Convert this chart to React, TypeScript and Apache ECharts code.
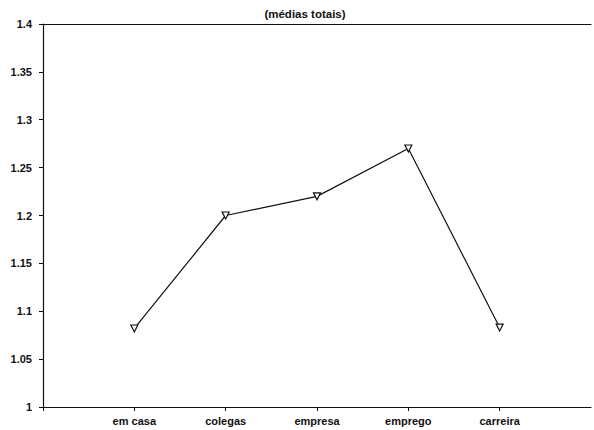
import React, { useEffect, useRef } from "react";
import * as echarts from "echarts";

const categories = ["", "em casa", "colegas", "empresa", "emprego", "carreira", ""];
const values: (number | null)[] = [null, 1.082, 1.2, 1.22, 1.27, 1.083, null];
const yTicks = [1, 1.05, 1.1, 1.15, 1.2, 1.25, 1.3, 1.35, 1.4];
const titleText = "(médias totais)";

const FONT = "Liberation Sans, Arial, sans-serif";

export default function App() {
  const ref = useRef<HTMLDivElement>(null);
  useEffect(() => {
    if (!ref.current) return;
    const chart = echarts.init(ref.current, undefined, { renderer: "svg" });
    chart.setOption({
      animation: false,
      backgroundColor: "#ffffff",
      title: {
        text: titleText,
        left: 300,
        top: 3,
        textAlign: "center",
        textStyle: { fontFamily: FONT, fontSize: 11.5, fontWeight: "bold", color: "#111" },
      },
      grid: { left: 43, right: -3, top: 24, bottom: 23, containLabel: false },
      xAxis: [
        {
          type: "category",
          data: categories,
          boundaryGap: false,
          axisLine: { show: true, lineStyle: { color: "#111", width: 1.2 } },
          axisTick: {
            show: true,
            inside: false,
            length: 4,
            interval: (i: number) => i < categories.length - 1,
            lineStyle: { color: "#111" },
          },
          axisLabel: {
            margin: 8,
            fontFamily: FONT,
            fontSize: 11,
            fontWeight: "bold",
            color: "#111",
            interval: 0,
          },
          splitLine: { show: false },
        },
        {
          type: "category",
          data: categories,
          position: "top",
          boundaryGap: false,
          axisLine: { show: true, lineStyle: { color: "#111", width: 1.2 } },
          axisTick: { show: false },
          axisLabel: { show: false },
        },
      ],
      yAxis: {
        type: "value",
        min: 1,
        max: 1.4,
        interval: 0.05,
        axisLine: { show: true, lineStyle: { color: "#111", width: 1.2 } },
        axisTick: { show: true, length: 4, lineStyle: { color: "#111" } },
        axisLabel: {
          margin: 11,
          fontFamily: FONT,
          fontSize: 11,
          fontWeight: "bold",
          color: "#111",
          formatter: (v: number) => {
            const t = yTicks.find((x) => Math.abs(x - v) < 1e-9);
            return t === undefined ? "" : String(t);
          },
        },
        splitLine: { show: false },
      },
      series: [
        {
          type: "line",
          data: values,
          connectNulls: false,
          symbol: "triangle",
          symbolRotate: 180,
          symbolSize: 7,
          showSymbol: true,
          lineStyle: { color: "#111", width: 1.2 },
          itemStyle: { color: "#ffffff", borderColor: "#111", borderWidth: 1.2 },
        },
      ],
    });
    return () => chart.dispose();
  }, []);
  return (
    <div
      ref={ref}
      style={{ position: "fixed", left: 0, top: 0, width: 594, height: 430 }}
    />
  );
}
